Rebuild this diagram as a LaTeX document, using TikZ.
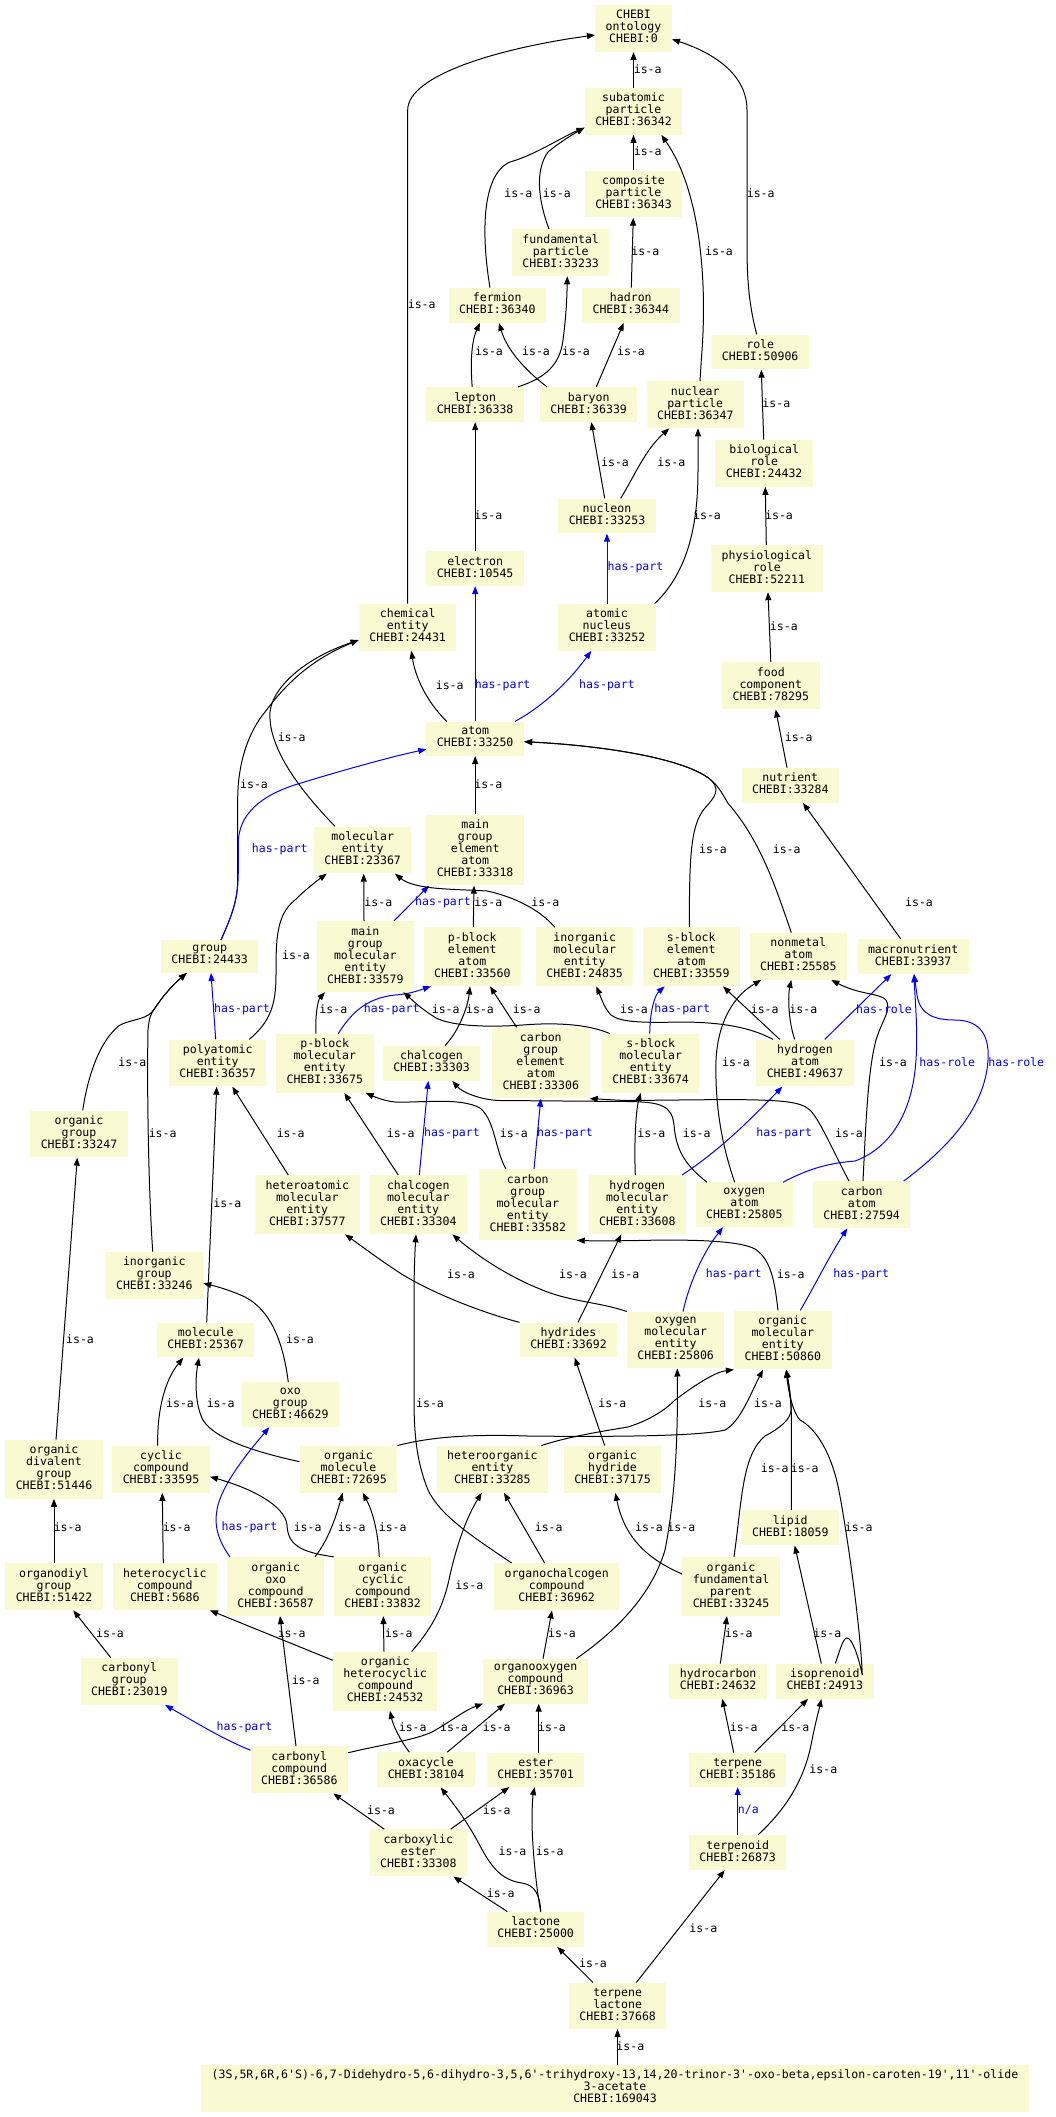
\documentclass[tikz,border=0pt]{standalone}
\usepackage{fontspec}
\setmonofont{DejaVu Sans Mono}
\usetikzlibrary{arrows.meta}
\definecolor{boxfill}{HTML}{FAFAD2}
\newcommand\nf{\ttfamily\fontsize{11.55}{12}\selectfont}
\begin{document}
\begin{tikzpicture}[x=1pt,y=-1pt,
 box/.style={fill=boxfill, inner xsep=10.5pt, inner ysep=5.25pt, align=center, font=\nf, execute at begin node=\strut, execute at end node=\strut},
 isa/.style={black, line width=1pt, -{Triangle[length=8pt,width=6pt]}},
 hp/.style={blue, line width=1pt, -{Triangle[length=8pt,width=6pt]}},
 il/.style={font=\nf, inner sep=0pt, text=black},
 hl/.style={font=\nf, inner sep=0pt, text=blue}]
\useasboundingbox (0,0) rectangle (1056,2117);
\node[box] (ont) at (633.5,28.5) {CHEBI\\ontology\\CHEBI:0};
\node[box] (sub) at (633.5,111.3) {subatomic\\particle\\CHEBI:36342};
\node[box] (comp) at (633.5,194) {composite\\particle\\CHEBI:36343};
\node[box] (fund) at (560.7,252.7) {fundamental\\particle\\CHEBI:33233};
\node[box] (ferm) at (497.3,305.3) {fermion\\CHEBI:36340};
\node[box] (hadr) at (630.8,305.3) {hadron\\CHEBI:36344};
\node[box] (role) at (760.2,352) {role\\CHEBI:50906};
\node[box] (lept) at (475.2,404.5) {lepton\\CHEBI:36338};
\node[box] (bary) at (588.7,404.5) {baryon\\CHEBI:36339};
\node[box] (nucp) at (695.3,404.7) {nuclear\\particle\\CHEBI:36347};
\node[box] (biol) at (764.2,463.2) {biological\\role\\CHEBI:24432};
\node[box] (nucl) at (607,516) {nucleon\\CHEBI:33253};
\node[box] (phys) at (766.8,568.5) {physiological\\role\\CHEBI:52211};
\node[box] (elec) at (475.2,568.5) {electron\\CHEBI:10545};
\node[box] (atnu) at (607,627.2) {atomic\\nucleus\\CHEBI:33252};
\node[box] (chem) at (407.7,627.2) {chemical\\entity\\CHEBI:24431};
\node[box] (food) at (770.8,685.8) {food\\component\\CHEBI:78295};
\node[box] (atom) at (475.2,738.7) {atom\\CHEBI:33250};
\node[box] (nutr) at (790.3,785.3) {nutrient\\CHEBI:33284};
\node[box] (mole) at (362.7,850) {molecular\\entity\\CHEBI:23367};
\node[box] (mgea) at (475.2,850) {main\\group\\element\\atom\\CHEBI:33318};
\node[box] (grp) at (209.7,956.5) {group\\CHEBI:24433};
\node[box] (mgme) at (365.3,956.5) {main\\group\\molecular\\entity\\CHEBI:33579};
\node[box] (pbea) at (472.3,956.7) {p-block\\element\\atom\\CHEBI:33560};
\node[box] (inme) at (584.7,956.7) {inorganic\\molecular\\entity\\CHEBI:24835};
\node[box] (sbea) at (691.3,956.7) {s-block\\element\\atom\\CHEBI:33559};
\node[box] (nonm) at (798.3,956.3) {nonmetal\\atom\\CHEBI:25585};
\node[box] (macr) at (913.2,956.5) {macronutrient\\CHEBI:33937};
\node[box] (poly) at (217.7,1063) {polyatomic\\entity\\CHEBI:36357};
\node[box] (pbme) at (324.8,1063.2) {p-block\\molecular\\entity\\CHEBI:33675};
\node[box] (chal) at (431.5,1063.2) {chalcogen\\CHEBI:33303};
\node[box] (cgea) at (540.8,1063) {carbon\\group\\element\\atom\\CHEBI:33306};
\node[box] (sbme) at (650.7,1063.2) {s-block\\molecular\\entity\\CHEBI:33674};
\node[box] (hyat) at (805,1063) {hydrogen\\atom\\CHEBI:49637};
\node[box] (orgg) at (79,1134) {organic\\group\\CHEBI:33247};
\node[box] (hame) at (307.3,1204.7) {heteroatomic\\molecular\\entity\\CHEBI:37577};
\node[box] (chme) at (418.3,1204.7) {chalcogen\\molecular\\entity\\CHEBI:33304};
\node[box] (cgme) at (527.8,1204.7) {carbon\\group\\molecular\\entity\\CHEBI:33582};
\node[box] (hyme) at (637.3,1204.7) {hydrogen\\molecular\\entity\\CHEBI:33608};
\node[box] (oxat) at (744.3,1204.7) {oxygen\\atom\\CHEBI:25805};
\node[box] (caat) at (861.7,1204.7) {carbon\\atom\\CHEBI:27594};
\node[box] (ingr) at (154.3,1275.2) {inorganic\\group\\CHEBI:33246};
\node[box] (mlc) at (205.7,1340) {molecule\\CHEBI:25367};
\node[box] (hydr) at (568.5,1340) {hydrides\\CHEBI:33692};
\node[box] (oxme) at (675.7,1340) {oxygen\\molecular\\entity\\CHEBI:25806};
\node[box] (ome) at (782.8,1340) {organic\\molecular\\entity\\CHEBI:50860};
\node[box] (oxo) at (290.3,1404.7) {oxo\\group\\CHEBI:46629};
\node[box] (odg) at (54,1469.2) {organic\\divalent\\group\\CHEBI:51446};
\node[box] (cyc) at (161,1469.2) {cyclic\\compound\\CHEBI:33595};
\node[box] (omol) at (348.5,1469.2) {organic\\molecule\\CHEBI:72695};
\node[box] (hetorg) at (492.4,1469.2) {heteroorganic\\entity\\CHEBI:33285};
\node[box] (ohyd) at (612.5,1469.2) {organic\\hydride\\CHEBI:37175};
\node[box] (lip) at (790.3,1527.8) {lipid\\CHEBI:18059};
\node[box] (odiyl) at (54,1586.7) {organodiyl\\group\\CHEBI:51422};
\node[box] (hetcyc) at (164.8,1586.7) {heterocyclic\\compound\\CHEBI:5686};
\node[box] (ooxo) at (275.7,1586.5) {organic\\oxo\\compound\\CHEBI:36587};
\node[box] (ocyc) at (382.7,1586.5) {organic\\cyclic\\compound\\CHEBI:33832};
\node[box] (ochal) at (556.7,1586.7) {organochalcogen\\compound\\CHEBI:36962};
\node[box] (ofp) at (731,1586.5) {organic\\fundamental\\parent\\CHEBI:33245};
\node[box] (cgrp) at (129.3,1681.2) {carbonyl\\group\\CHEBI:23019};
\node[box] (ohet) at (385.2,1681.2) {organic\\heterocyclic\\compound\\CHEBI:24532};
\node[box] (ooxy) at (535.5,1681.2) {organooxygen\\compound\\CHEBI:36963};
\node[box] (hcarb) at (718.2,1681.2) {hydrocarbon\\CHEBI:24632};
\node[box] (isop) at (824.8,1681.2) {isoprenoid\\CHEBI:24913};
\node[box] (ccmp) at (299.3,1769.8) {carbonyl\\compound\\CHEBI:36586};
\node[box] (oxac) at (426,1769.8) {oxacycle\\CHEBI:38104};
\node[box] (est) at (535.7,1769.8) {ester\\CHEBI:35701};
\node[box] (terp) at (737.7,1769.8) {terpene\\CHEBI:35186};
\node[box] (cest) at (418.3,1852.8) {carboxylic\\ester\\CHEBI:33308};
\node[box] (tpd) at (737.7,1852.5) {terpenoid\\CHEBI:26873};
\node[box] (lac) at (535.7,1929.2) {lactone\\CHEBI:25000};
\node[box] (tlac) at (617.7,2005.8) {terpene\\lactone\\CHEBI:37668};
\node[box] (bot) at (615,2088.3) {(3S,5R,6R,6'S)-6,7-Didehydro-5,6-dihydro-3,5,6'-trihydroxy-13,14,20-trinor-3'-oxo-beta,epsilon-caroten-19',11'-olide\\3-acetate\\CHEBI:169043};
% edges
\draw[isa] (sub.north) -- (ont.south) node[il] at (647.7,69.3) {is-a};
\draw[isa] (chem.north) -- (407.7,110) .. controls (407.7,75) and (500,48) .. ([yshift=-6.5pt]ont.west) node[il] at (421.7,304.3) {is-a};
\draw[isa] ([xshift=-3.5pt]role.north) .. controls (749,305) and (747,280) .. (747,245) -- (747,110) .. controls (747,70) and (705,50) .. ([yshift=-10.8pt]ont.east) node[il] at (760.7,193.3) {is-a};
\draw[isa] (comp.north) -- (sub.south) node[il] at (647.7,151) {is-a};
\draw[isa] ([xshift=-7.3pt]ferm.north) .. controls (482,240) and (480,175) .. (510,162) .. controls (535,155) and (560,138) .. ([yshift=-16.4pt]sub.west) node[il] at (518.3,193.3) {is-a};
\draw[isa] ([xshift=-11.7pt]fund.north) .. controls (538,200) and (535,170) .. (548,152) .. controls (560,142) and (575,133) .. ([yshift=-16.4pt]sub.west) node[il] at (556.8,193.3) {is-a};
\draw[isa] ([xshift=4.7pt]nucp.north) -- (701.3,360) .. controls (708,280) and (700,190) .. ([xshift=27.8pt]sub.south) node[il] at (719,251) {is-a};
\draw[isa] ([xshift=0.5pt]hadr.north) -- ([xshift=-0.2pt]comp.south) node[il] at (645.3,251) {is-a};
\draw[isa] ([xshift=-3pt]lept.north) .. controls (470,360) and (472,340) .. ([xshift=-17.3pt]ferm.south) node[il] at (489,351) {is-a};
\draw[isa] ([xshift=-41.7pt]bary.north) .. controls (525,370) and (507,350) .. ([xshift=1.7pt]ferm.south) node[il] at (536,351) {is-a};
\draw[isa] ([xshift=43pt]lept.north) .. controls (545,378) and (560,365) .. (563,340) .. controls (567,310) and (567,290) .. ([xshift=6.6pt]fund.south) node[il] at (576,351) {is-a};
\draw[isa] ([xshift=7.6pt]bary.north) -- ([xshift=-7.1pt]hadr.south) node[il] at (631,351) {is-a};
\draw[isa] ([xshift=-2.3pt]nucl.north) -- ([xshift=2.6pt]bary.south) node[il] at (615,462.3) {is-a};
\draw[isa] ([xshift=13.7pt]nucl.north) .. controls (635,475) and (645,450) .. ([xshift=-26pt]nucp.south) node[il] at (671.3,462.3) {is-a};
\draw[hp] (atnu.north) -- (nucl.south) node[hl] at (635.5,567.3) {has-part};
\draw[isa] ([xshift=47.7pt]atnu.north) .. controls (690,570) and (698,520) .. (698,470) -- ([xshift=2.7pt]nucp.south) node[il] at (707,515.3) {is-a};
\draw[isa] (elec.north) -- (lept.south) node[il] at (488.3,515.3) {is-a};
\draw[isa] ([xshift=-0.5pt]biol.north) -- ([xshift=1.1pt]role.south) node[il] at (776.3,403.3) {is-a};
\draw[isa] ([xshift=-0.5pt]phys.north) -- ([xshift=1.1pt]biol.south) node[il] at (779,515.3) {is-a};
\draw[isa] (food.north) -- ([xshift=1.2pt]phys.south) node[il] at (783.8,626.3) {is-a};
\draw[isa] ([xshift=-3.3pt]nutr.north) -- ([xshift=4.9pt]food.south) node[il] at (798.7,737.3) {is-a};
\draw[isa] ([xshift=-12.5pt]macr.north) -- ([xshift=12.7pt]nutr.south) node[il] at (919,902.3) {is-a};
\draw[isa] ([xshift=-28.5pt]atom.north) .. controls (425,700) and (415,675) .. ([xshift=3.6pt]chem.south) node[il] at (449.7,685) {is-a};
\draw[hp] (atom.north) -- (elec.south) node[hl] at (502.6,685) {has-part};
\draw[hp] ([xshift=39.8pt]atom.north) .. controls (545,705) and (570,680) .. ([xshift=-15.7pt]atnu.south) node[hl] at (607,685) {has-part};
\draw[isa] (mgea.north) -- (atom.south) node[il] at (488.3,784.3) {is-a};
\draw[isa] ([xshift=-2pt]sbea.north) .. controls (689.5,860) and (690,825) .. (705,808) .. controls (715,797) and (720,790) .. (712,781) .. controls (690,760) and (610,746) .. ([yshift=-3pt]atom.east) node[il] at (713,849.3) {is-a};
\draw[isa] ([xshift=-7pt]nonm.north) .. controls (775,885) and (760,840) .. (728,803.3) .. controls (722,793) and (718,786) .. (712,781) .. controls (690,760) and (610,746) .. ([yshift=-3pt]atom.east) node[il] at (786.7,849.3) {is-a};
\draw[isa] ([xshift=-27.7pt]mole.north) .. controls (295,785) and (268,745) .. (270,712) .. controls (272,690) and (300,660) .. ([yshift=-12.8pt]chem.west) node[il] at (291.7,737.3) {is-a};
\draw[isa] ([xshift=11.3pt]grp.north) .. controls (232,915) and (237.7,900) .. (237.7,880) -- (237.7,800) .. controls (237.7,760) and (250,730) .. (265,712) .. controls (285,685) and (310,660) .. ([yshift=-12.8pt]chem.west) node[il] at (254,784.3) {is-a};
\draw[hp] ([xshift=11.3pt]grp.north) .. controls (232,915) and (238.3,900) .. (238.3,870) -- (238.3,843.3) .. controls (238.3,815) and (260,795) .. (300,783.3) .. controls (340,771) and (390,757) .. ([yshift=-10.6pt]atom.west) node[hl] at (279.7,849) {has-part};
\draw[isa] ([xshift=-1.3pt]mgme.north) -- ([xshift=1pt]mole.south) node[il] at (378.3,902.3) {is-a};
\draw[hp] ([xshift=28.7pt]mgme.north) -- ([xshift=-46.2pt]mgea.south) node[hl] at (443,902.3) {has-part};
\draw[isa] ([xshift=1pt]pbea.north) -- ([xshift=-1.2pt]mgea.south) node[il] at (488.3,902.3) {is-a};
\draw[isa] ([xshift=-30pt]inme.north) .. controls (540,910) and (515,897) .. (487,891) .. controls (455,889) and (415,890) .. ([xshift=32.3pt]mole.south) node[il] at (545.3,902.3) {is-a};
\draw[hp] ([xshift=-2pt]poly.north) -- ([xshift=1.3pt]grp.south) node[hl] at (242,1009.3) {has-part};
\draw[isa] ([xshift=31.6pt]poly.north) .. controls (270,1022) and (276,1005) .. (276,975) .. controls (276,940) and (276,915) .. (295,900) .. controls (305,890) and (318,880) .. ([xshift=-36pt]mole.south) node[il] at (296,955.3) {is-a};
\draw[isa] ([xshift=3.7pt]orgg.north) .. controls (88,1075) and (100,1040) .. (120,1025) .. controls (135,1018) and (148,1020) .. (155,1008) .. controls (165,993) and (175,983) .. ([xshift=-23pt]grp.south) node[il] at (132.3,1062.3) {is-a};
\draw[isa] ([xshift=-1.6pt]ingr.north) .. controls (148,1180) and (147,1080) .. (148,1030) .. controls (149,1018) and (151,1013) .. (155,1008) .. controls (165,993) and (175,983) .. ([xshift=-23pt]grp.south) node[il] at (162.7,1133.3) {is-a};
\draw[isa] ([xshift=-8.8pt]pbme.north) .. controls (315,1015) and (318,1000) .. ([xshift=-40.3pt]mgme.south) node[il] at (333.3,1009.3) {is-a};
\draw[hp] ([xshift=13.5pt]pbme.north) .. controls (350,1015) and (365,998) .. (395,995) .. controls (410,994) and (420,990) .. ([xshift=-41.3pt]pbea.south) node[hl] at (391.7,1009.3) {has-part};
\draw[isa] ([xshift=-41pt]sbme.north) .. controls (590,1025) and (560,1022) .. (522.7,1025) .. controls (480,1028) and (445,1025) .. (433,1016) .. controls (420,1008) and (410,998) .. ([xshift=38pt]mgme.south) node[il] at (445.7,1009.3) {is-a};
\draw[isa] ([xshift=13.5pt]chal.north) .. controls (460,1030) and (468,1005) .. ([xshift=-2.3pt]pbea.south) node[il] at (480,1009.3) {is-a};
\draw[isa] ([xshift=-24.1pt]cgea.north) -- ([xshift=17.7pt]pbea.south) node[il] at (526.7,1009.3) {is-a};
\draw[isa] ([xshift=-32pt]hyat.north) .. controls (750,1027) and (720,1022) .. (680,1022) .. controls (640,1023) and (620,1022) .. (611,1015) .. controls (604,1008) and (600,995) .. ([xshift=11.6pt]inme.south) node[il] at (634,1009.3) {is-a};
\draw[isa] ([xshift=-25.3pt]hyat.north) -- ([xshift=31.7pt]sbea.south) node[il] at (764.7,1009.3) {is-a};
\draw[hp] ([xshift=-1pt]sbme.north) .. controls (650,1010) and (655,995) .. ([xshift=-26.6pt]sbea.south) node[hl] at (682.3,1009.3) {has-part};
\draw[isa] ([xshift=-9.6pt]oxat.north) .. controls (720,1140) and (715,1100) .. (716,1060) .. controls (718,1020) and (735,995) .. ([xshift=-37pt]nonm.south) node[il] at (736,1062.3) {is-a};
\draw[isa] ([xshift=-10.3pt]hyat.north) .. controls (788,1020) and (788,995) .. ([xshift=-7pt]nonm.south) node[il] at (803.3,1009.3) {is-a};
\draw[isa] ([xshift=1.3pt]caat.north) .. controls (866,1120) and (868,1070) .. (876,1040) .. controls (882,1020) and (892,1010) .. (886,1000) .. controls (880,993) and (860,995) .. ([xshift=33pt]nonm.south) node[il] at (893,1062.3) {is-a};
\draw[hp] ([xshift=19.7pt]hyat.north) -- ([xshift=-21.9pt]macr.south) node[hl] at (884,1009.3) {has-role};
\draw[hp] ([xshift=38.7pt]oxat.north) .. controls (810,1168) and (830,1163) .. (855,1161) .. controls (885,1150) and (912,1120) .. (916,1060) .. controls (918,1030) and (915,1000) .. ([xshift=0.8pt]macr.south) node[hl] at (947.3,1062.3) {has-role};
\draw[hp] ([xshift=42pt]caat.north) .. controls (945,1150) and (985,1110) .. (988,1060) .. controls (990,1030) and (975,1020) .. (955,1020) .. controls (935,1020) and (920,1015) .. (917,995) -- ([xshift=0.8pt]macr.south) node[hl] at (1016.3,1062.3) {has-role};
\draw[isa] ([xshift=-19pt]hame.north) -- ([xshift=14.6pt]poly.south) node[il] at (290.7,1133.3) {is-a};
\draw[isa] ([xshift=-20pt]chme.north) -- ([xshift=19.5pt]pbme.south) node[il] at (400.7,1133.3) {is-a};
\draw[hp] ([xshift=1pt]chme.north) -- ([xshift=-3.2pt]chal.south) node[hl] at (452,1133.3) {has-part};
\draw[isa] ([xshift=-21.8pt]cgme.north) .. controls (495,1150) and (495,1120) .. (480,1108) .. controls (460,1097) and (420,1103) .. (395,1102) .. controls (385,1101) and (375,1097) .. ([xshift=40.9pt]pbme.south) node[il] at (513.8,1133.3) {is-a};
\draw[hp] ([xshift=6.2pt]cgme.north) -- (cgea.south) node[hl] at (565,1133.3) {has-part};
\draw[isa] ([xshift=-37.3pt]oxat.north) .. controls (685,1165) and (676,1150) .. (674,1125) .. controls (672,1105) and (660,1102) .. (628,1101.5) -- (500,1100.5) .. controls (480,1100) and (462,1092) .. ([xshift=20.8pt]chal.south) node[il] at (696.7,1133.3) {is-a};
\draw[isa] ([xshift=-2pt]hyme.north) .. controls (634,1140) and (636,1110) .. ([xshift=-10pt]sbme.south) node[il] at (651.3,1133.3) {is-a};
\draw[hp] ([xshift=44.7pt]hyme.north) .. controls (720,1150) and (750,1120) .. ([xshift=-22.7pt]hyat.south) node[hl] at (784.3,1133.3) {has-part};
\draw[isa] ([xshift=-12.7pt]caat.north) .. controls (835,1155) and (820,1120) .. (810,1110) .. controls (800,1101) and (780,1100) .. (728,1099.5) -- (628,1100.5) .. controls (610,1100) and (600,1099) .. (cgea.south east) node[il] at (849,1133.3) {is-a};
\draw[isa] (hydr.north west) .. controls (480,1312) and (430,1292) .. (400,1273) .. controls (380,1260) and (360,1245) .. ([xshift=37.7pt]hame.south) node[il] at (461,1274) {is-a};
\draw[isa] (oxme.north west) .. controls (600,1302) and (570,1302) .. (540,1289) .. controls (510,1277) and (480,1258) .. ([xshift=34pt]chme.south) node[il] at (573,1274) {is-a};
\draw[isa] ([xshift=9.5pt]hydr.north) -- ([xshift=-16pt]hyme.south) node[il] at (625.3,1274) {is-a};
\draw[hp] ([xshift=7.3pt]oxme.north) .. controls (690,1280) and (705,1250) .. ([xshift=-21.3pt]oxat.south) node[hl] at (733.7,1274) {has-part};
\draw[isa] ([xshift=-4.8pt]ome.north) .. controls (775,1285) and (772,1260) .. (755,1249) .. controls (740,1241) and (700,1240) .. (661,1240) .. controls (620,1241) and (595,1241) .. (cgme.south east) node[il] at (790.7,1274) {is-a};
\draw[hp] ([xshift=17.5pt]ome.north) .. controls (815,1285) and (830,1255) .. ([xshift=-14.4pt]caat.south) node[hl] at (861.3,1274) {has-part};
\draw[isa] ([xshift=-2pt]oxo.north) .. controls (283,1340) and (270,1310) .. (245,1297) .. controls (230,1290) and (215,1286) .. ([yshift=-8pt]ingr.east) node[il] at (300,1339.3) {is-a};
\draw[isa] ([xshift=1pt]mlc.north) -- ([xshift=-1pt]poly.south) node[il] at (227.3,1203.3) {is-a};
\draw[isa] ([xshift=2pt]odg.north) -- ([xshift=-1.7pt]orgg.south) node[il] at (80,1339.3) {is-a};
\draw[isa] ([xshift=-3.3pt]cyc.north) .. controls (157,1410) and (165,1380) .. ([xshift=-22.4pt]mlc.south) node[il] at (180,1403.3) {is-a};
\draw[isa] ([yshift=7.5pt]omol.west) .. controls (260,1453) and (215,1440) .. (203,1420) .. controls (195,1405) and (195,1380) .. ([xshift=-6.7pt]mlc.south) node[il] at (220.7,1403.3) {is-a};
\draw[isa] (omol.north east) .. controls (430,1437) and (470,1434) .. (528,1436) .. controls (620,1437) and (700,1436) .. (725,1430) .. controls (740,1422) and (750,1395) .. ([xshift=-19.8pt]ome.south) node[il] at (768,1403.3) {is-a};
\draw[isa] ([xshift=-7pt]hetorg.north east) .. controls (570,1436) and (610,1430) .. (628,1427) .. controls (650,1420) and (665,1410) .. (675,1400) .. controls (695,1385) and (715,1372) .. (ome.south west) node[il] at (712.3,1403.3) {is-a};
\draw[isa] ([xshift=1pt]lip.north) -- (791.3,1413) .. controls (790.5,1395) and (788,1380) .. ([xshift=3.5pt]ome.south) node[il] at (804.7,1468.3) {is-a};
\draw[isa] ([xshift=3pt]ofp.north) .. controls (742,1500) and (742,1455) .. (765,1436) .. controls (780,1428) and (790,1420) .. (791.3,1410) .. controls (791,1395) and (788,1380) .. ([xshift=3.5pt]ome.south) node[il] at (774.7,1468.3) {is-a};
\draw[isa] ([xshift=10.5pt]isop.north) .. controls (840,1650) and (843,1638) .. (847,1638) .. controls (852,1638) and (858,1655) .. (862.3,1675) .. controls (860,1620) and (845,1520) .. (838,1486) .. controls (830,1450) and (815,1428) .. (800,1420) .. controls (793,1413) and (788,1390) .. ([xshift=3.5pt]ome.south) node[il] at (858.7,1527.3) {is-a};
\draw[isa] ([xshift=-3.5pt]isop.north) -- ([xshift=4.4pt]lip.south) node[il] at (827.3,1633.3) {is-a};
\draw[isa] ([xshift=-7.8pt]ohyd.north) -- ([xshift=6.2pt]hydr.south) node[il] at (612.3,1403.3) {is-a};
\draw[isa] ([xshift=-45pt]ochal.north) .. controls (470,1535) and (440,1515) .. (428,1490) .. controls (418,1465) and (414,1440) .. (414,1400) -- (414,1300) .. controls (414,1270) and (415,1250) .. ([xshift=-2.3pt]chme.south) node[il] at (430,1403.3) {is-a};
\draw[isa] ([xshift=-12pt]ochal.north) -- ([xshift=11.6pt]hetorg.south) node[il] at (548.7,1527.3) {is-a};
\draw[hp] ([xshift=-45.7pt]ooxo.north) .. controls (218,1540) and (213,1525) .. (218,1505) .. controls (225,1480) and (250,1450) .. ([xshift=-21pt]oxo.south) node[hl] at (249.5,1527.3) {has-part};
\draw[isa] ([xshift=39.3pt]ooxo.north) .. controls (328,1540) and (335,1520) .. ([xshift=-5.8pt]omol.south) node[il] at (351.7,1527.3) {is-a};
\draw[isa] (ocyc.north west) .. controls (300,1552) and (288,1545) .. (287,1525) .. controls (285,1505) and (250,1488) .. ([yshift=-7.5pt]cyc.east) node[il] at (307.7,1527.3) {is-a};
\draw[isa] ([xshift=-3.4pt]ocyc.north) .. controls (378,1530) and (372,1510) .. ([xshift=14.2pt]omol.south) node[il] at (392.7,1527.3) {is-a};
\draw[isa] ([xshift=-1.5pt]hetcyc.north) -- ([xshift=1.3pt]cyc.south) node[il] at (176.7,1527.3) {is-a};
\draw[isa] (odiyl.north) -- (odg.south) node[il] at (67.7,1527.3) {is-a};
\draw[isa] ([xshift=-18.6pt]cgrp.north) -- ([xshift=19.3pt]odiyl.south) node[il] at (110,1633.3) {is-a};
\draw[isa] ([yshift=-8.7pt]ohet.north west) -- ([xshift=45.2pt]hetcyc.south) node[il] at (291.7,1633.3) {is-a};
\draw[isa] ([xshift=-1.2pt]ohet.north) -- ([xshift=0.6pt]ocyc.south) node[il] at (398.7,1633.3) {is-a};
\draw[isa] ([xshift=26.5pt]ohet.north) .. controls (430,1630) and (443,1610) .. (450,1575) .. controls (458,1540) and (468,1515) .. ([xshift=-10.7pt]hetorg.south) node[il] at (469.3,1585.3) {is-a};
\draw[isa] ([xshift=7.5pt]ooxy.north) -- ([xshift=-4.7pt]ochal.south) node[il] at (562,1633.3) {is-a};
\draw[isa] ([xshift=40.8pt]ooxy.north) .. controls (610,1635) and (650,1600) .. (665,1550) .. controls (675,1500) and (678,1440) .. ([xshift=1.6pt]oxme.south) node[il] at (681.3,1527.3) {is-a};
\draw[isa] ([yshift=12.5pt]ofp.west) .. controls (650,1560) and (625,1540) .. ([xshift=2.8pt]ohyd.south) node[il] at (649,1527.3) {is-a};
\draw[isa] ([xshift=2.1pt]hcarb.north) -- ([xshift=-4pt]ofp.south) node[il] at (738.7,1633.3) {is-a};
\draw[hp] ([yshift=-4pt]ccmp.north west) .. controls (225,1740) and (200,1725) .. ([xshift=35.7pt]cgrp.south) node[hl] at (244.5,1727.3) {has-part};
\draw[isa] ([xshift=-3.3pt]ccmp.north) -- ([xshift=4.3pt]ooxo.south) node[il] at (305.7,1680.3) {is-a};
\draw[isa] ([yshift=-6.6pt]ccmp.north east) .. controls (380,1745) and (415,1740) .. (432,1732) .. controls (450,1722) and (465,1710) .. (ooxy.south west) node[il] at (454,1727.3) {is-a};
\draw[isa] ([xshift=-16.7pt]oxac.north) .. controls (400,1740) and (393,1725) .. ([xshift=4.8pt]ohet.south) node[il] at (412.7,1727.3) {is-a};
\draw[isa] ([xshift=21.3pt]oxac.north) -- ([xshift=-30.5pt]ooxy.south) node[il] at (496.7,1727.3) {is-a};
\draw[isa] ([xshift=3pt]est.north) -- ([xshift=3.2pt]ooxy.south) node[il] at (552,1727.3) {is-a};
\draw[isa] ([xshift=-4pt]terp.north) -- ([xshift=4.1pt]hcarb.south) node[il] at (743.7,1727.3) {is-a};
\draw[isa] ([xshift=17pt]terp.north) -- ([xshift=-16.8pt]isop.south) node[il] at (795.3,1727.3) {is-a};
\draw[isa] ([xshift=20.3pt]tpd.north) .. controls (785,1810) and (805,1780) .. (812,1740) .. controls (816,1720) and (819,1710) .. ([xshift=-3.5pt]isop.south) node[il] at (823.3,1769.3) {is-a};
\draw[hp] (tpd.north) -- (terp.south) node[hl] at (748.3,1810.3) {n/a};
\draw[isa] ([xshift=-34pt]cest.north) -- ([xshift=34pt]ccmp.south) node[il] at (381,1810.3) {is-a};
\draw[isa] ([xshift=32.4pt]cest.north) -- ([xshift=-26.4pt]est.south) node[il] at (496.7,1810.3) {is-a};
\draw[isa] ([xshift=-28.4pt]lac.north) -- ([xshift=35pt]cest.south) node[il] at (500.7,1893) {is-a};
\draw[isa] ([xshift=5pt]lac.north) .. controls (540,1895) and (535,1885) .. (522,1883) .. controls (500,1880) and (490,1865) .. (478,1842) .. controls (465,1818) and (452,1802) .. ([xshift=14.7pt]oxac.south) node[il] at (512.5,1851.3) {is-a};
\draw[isa] ([xshift=5pt]lac.north) .. controls (535,1880) and (532,1840) .. (532,1820) .. controls (532,1805) and (533,1795) .. ([xshift=-1pt]est.south) node[il] at (549.7,1851.3) {is-a};
\draw[isa] ([xshift=-24.7pt]tlac.north) -- ([xshift=21.6pt]lac.south) node[il] at (593,1963.3) {is-a};
\draw[isa] ([xshift=18.6pt]tlac.north) -- ([xshift=-13pt]tpd.south) node[il] at (703.3,1928.3) {is-a};
\draw[isa] ([xshift=2.5pt]bot.north) -- ([xshift=-0.2pt]tlac.south) node[il] at (630.3,2046.3) {is-a};
\end{tikzpicture}
\end{document}
